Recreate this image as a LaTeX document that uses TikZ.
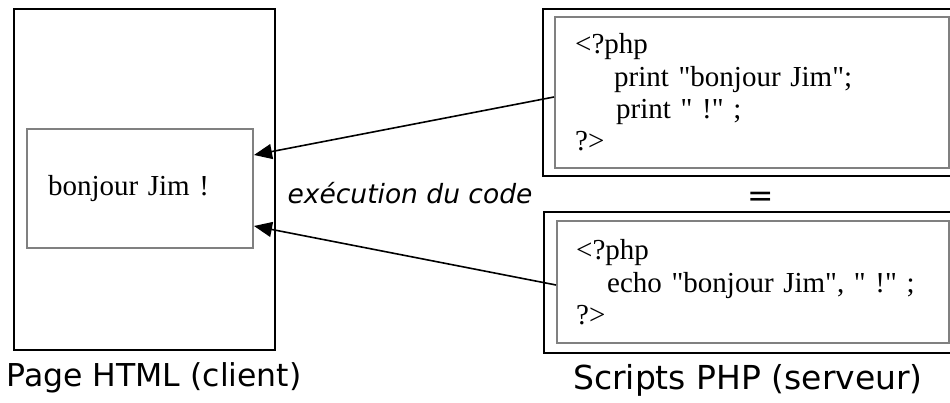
\documentclass[tikz,border=0pt]{standalone}
\usepackage{fontspec}
\setmainfont{Liberation Serif}[Ligatures=TeXOff]
\newfontfamily\handfont{DejaVu Sans}
\usetikzlibrary{arrows.meta}

\begin{document}
\begin{tikzpicture}[x=1pt, y=1pt,
  page/.style={draw, line width=2pt, inner sep=0pt},
  pane/.style={draw=gray, line width=2pt, inner sep=0pt},
  codetext/.style={anchor=base west, inner sep=0pt, text width=360pt, align=left, font=\fontsize{29}{32.3}\selectfont},
  caption/.style={anchor=base, inner sep=0pt, font=\handfont\fontsize{31.5}{36}\selectfont},
  arrow/.style={-{Triangle[length=18pt, width=15pt]}, line width=1.6pt}
]
\useasboundingbox (0,0) rectangle (950,403);

% client side
\node[page, minimum width=261pt, minimum height=341pt] (client) at (144.5,223.5) {};
\node[pane, minimum height=119pt, text width=184pt, inner xsep=21pt, align=left,
  font=\fontsize{29}{34}\selectfont] (bj) at (140,214.5) {bonjour Jim !};

% server side, two equivalent scripts
\node[page, minimum width=418pt, minimum height=167pt] (srvAout) at (752,310.5) {};
\node[pane, minimum width=394pt, minimum height=151pt] (srvA) at (752,310.5) {};
\node[codetext] (codeA) at (575,349) {<?php\\
  \hspace*{39pt}print "bonjour Jim";\\
  \hspace*{41pt}print " !" ;\\
  ?>};

\node[page, minimum width=417pt, minimum height=141pt] (srvBout) at (752.5,120.5) {};
\node[pane, minimum width=392pt, minimum height=122pt] (srvB) at (753,121) {};
\node[codetext] (codeB) at (576,143) {<?php\\
  \hspace*{31pt}echo "bonjour Jim", " !" ;\\
  ?>};

\node[caption] (eq) at (761,196) {=};

% execution arrows
\draw[arrow] ([yshift=-4.5pt]srvA.west) -- ([yshift=33.5pt]bj.east);
\draw[arrow] ([yshift=-3pt]srvB.west) -- ([yshift=-37.5pt]bj.east);
\node[anchor=base, inner sep=0pt, font=\handfont\itshape\fontsize{26.5}{30}\selectfont] (exec) at (410,199) {exécution du code};

% captions
\node[caption] (clientlbl) at (154,16) {Page HTML (client)};
\node[caption, font=\handfont\fontsize{33}{38}\selectfont] (srvlbl) at (748,13) {Scripts PHP (serveur)};
\end{tikzpicture}
\end{document}
